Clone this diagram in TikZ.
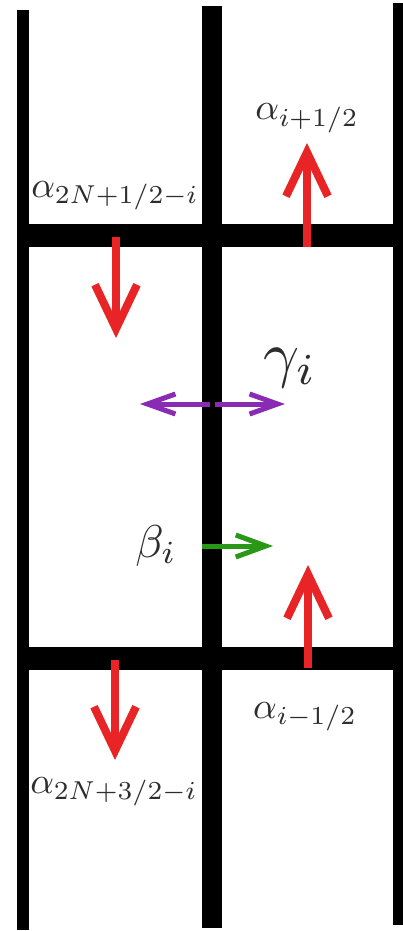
\documentclass[tikz,border=0pt]{standalone}
\usetikzlibrary{arrows.meta}
\definecolor{fluxred}{RGB}{232,36,38}
\definecolor{fluxpurple}{RGB}{138,43,180}
\definecolor{fluxgreen}{RGB}{40,152,22}
\definecolor{labelgray}{RGB}{45,45,45}
\begin{document}
\begin{tikzpicture}[x=1pt,y=-1pt,
  wall/.style={line width=#1, black},
  redarrow/.style={fluxred, line width=8pt, -{Straight Barb[length=44pt,width=42pt,sharp]}},
  purplearrow/.style={fluxpurple, line width=5pt, -{Straight Barb[length=28pt,width=20pt,sharp]}},
  greenarrow/.style={fluxgreen, line width=5pt, -{Straight Barb[length=30pt,width=22pt,sharp]}},
  lab/.style={text=labelgray, anchor=base, inner sep=0pt, scale=#1}]
\useasboundingbox (0,0) rectangle (403,931);
\fill[white] (0,0) rectangle (403,931);
% walls
\draw[wall=12pt] (23,10) -- (23,930);
\draw[wall=20pt] (212,6) -- (212,928);
\draw[wall=11pt] (398.5,3) -- (398.5,925);
\draw[wall=23pt] (17,235.5) -- (404,235.5);
\draw[wall=23pt] (17,658.5) -- (404,658.5);
% arrow coordinates
\coordinate (a1s) at (116,237);  \coordinate (a1e) at (116,338);
\coordinate (a2s) at (307,247);  \coordinate (a2e) at (307,143);
\coordinate (a3s) at (308,668);  \coordinate (a3e) at (308,565);
\coordinate (a4s) at (115,660);  \coordinate (a4e) at (115,760);
\coordinate (gm1) at (209.5,404); \coordinate (gl) at (140,404);
\coordinate (gm2) at (214.5,404); \coordinate (gr) at (285,404);
\coordinate (bs) at (202,546);   \coordinate (be) at (273,546);
% arrows
\draw[redarrow] (a1s) -- (a1e);
\draw[redarrow] (a2s) -- (a2e);
\draw[redarrow] (a3s) -- (a3e);
\draw[redarrow] (a4s) -- (a4e);
\draw[purplearrow] (gm1) -- (gl);
\draw[purplearrow] (gm2) -- (gr);
\draw[greenarrow] (bs) -- (be);
% labels
\node[lab=3.7] (lip) at (307,120) {$\alpha_{i+1/2}$};
\node[lab=3.7] (lnp) at (115,197) {$\alpha_{2N+1/2-i}$};
\node[lab=3.7] (lim) at (305,718) {$\alpha_{i-1/2}$};
\node[lab=3.7] (lnm) at (114,793) {$\alpha_{2N+3/2-i}$};
\node[lab=6.3] (lg) at (290,375) {$\gamma_i$};
\node[lab=4.6] (lb) at (156,557) {$\beta_i$};
\end{tikzpicture}
\end{document}
